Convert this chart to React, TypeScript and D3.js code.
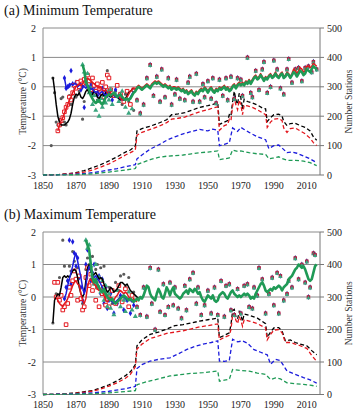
import React from 'react';
import * as d3 from 'd3';

type Pt = [number, number];

const X_TICKS = [1850, 1870, 1890, 1910, 1930, 1950, 1970, 1990, 2010];
const T_TICKS = [-3, -2, -1, 0, 1, 2];
const N_TICKS = [0, 100, 200, 300, 400, 500];

// ---------- (a) Minimum temperature: smoothed lines (start year + yearly values)
const minBlackStart = 1856;
const minBlackLine = [0.33, -0.1, -0.6, -1.0, -1.2, -1.3, -1.3, -1.3, -1.25, -1.2,
  -1.1, -0.9, -0.6, -0.35, -0.25, -0.3, -0.2, -0.35, -0.4, -0.3,
  -0.15, -0.1, -0.2, -0.3, -0.25, -0.15, -0.2, -0.35, -0.4, -0.3,
  -0.25, -0.3, -0.2, -0.25, -0.3, -0.35, -0.3, -0.25, -0.3, -0.35,
  -0.4, -0.45, -0.4, -0.45, -0.4, -0.3, -0.2, -0.15, -0.1, -0.05];
const minRedStart = 1859;
const minRedLine = [-1.5, -1.3, -1.15, -1.05, -0.9, -0.75, -0.6, -0.45, -0.35, -0.2,
  -0.1, 0.0, 0.05, 0.1, 0.05, 0.1, 0.2, 0.25, 0.3, 0.25,
  0.2, 0.15, 0.1, 0.05, 0.0, -0.05, 0.0, -0.1, -0.15, -0.1,
  -0.2, -0.25, -0.2, -0.3, -0.25, -0.3, -0.35, -0.3, -0.4, -0.45,
  -0.4, -0.45, -0.35, -0.25, -0.15, -0.1, -0.05,
  -0.1, 0.0, 0.05, 0.0, -0.05,
  0.0, 0.05, 0.1, 0.05, 0.0, 0.1, 0.15, 0.2, 0.15, 0.2,
  0.15, 0.1, 0.05, 0.1, 0.05, 0.0, 0.05, -0.05, 0.0, 0.0,
  -0.05, 0.0, -0.05, -0.1, -0.05, -0.15, -0.1, -0.2, -0.15, -0.1,
  -0.2, -0.25, -0.15, -0.2, -0.1, -0.05, -0.1, 0.0, -0.05, -0.15,
  -0.05, 0.0, -0.1, -0.15, -0.05, -0.1, 0.0, -0.05, 0.0, 0.05,
  -0.05, 0.0, -0.1, -0.05, 0.05, 0.1, 0.0, 0.1, 0.15, 0.1,
  0.15, 0.1, 0.2, 0.15, 0.25, 0.15, 0.25, 0.35, 0.4, 0.3,
  0.35, 0.45, 0.35, 0.25, 0.35, 0.3, 0.4, 0.45, 0.35, 0.4,
  0.5, 0.4, 0.35, 0.45, 0.5, 0.35, 0.4, 0.5, 0.45, 0.35,
  0.45, 0.6, 0.55, 0.45, 0.55, 0.65, 0.6, 0.5, 0.55, 0.7,
  0.7, 0.65, 0.7, 0.8, 0.75, 0.7];
const minBlueStart = 1863;
const minBlueLine = [0.3, 0.0, -0.05, 0.05, 0.1, 0.05, 0.1, 0.1, 0.0, 0.05,
  0.1, 0.05, 0.0, -0.05, 0.05, 0.0, -0.1, -0.05, -0.15, -0.2,
  -0.15, -0.25, -0.2, -0.15, -0.25, -0.3, -0.2, -0.25, -0.3, -0.25,
  -0.3, -0.35, -0.3, -0.35, -0.4, -0.45, -0.4, -0.45, -0.4, -0.45,
  -0.35, -0.25, -0.15];
const minGreenStart = 1874;
const minGreenLine = [0.75, 0.55, 0.15, 0.05, -0.1, -0.3, -0.4, -0.5, -0.55, -0.5,
  -0.45, -0.55, -0.6, -0.5, -0.35, -0.3, -0.25, -0.3, -0.25, -0.2,
  -0.3, -0.35, -0.3, -0.25, -0.35, -0.4, -0.45, -0.4, -0.45, -0.4,
  -0.3, -0.2, -0.15, -0.05, 0.0, -0.05, -0.1,
  -0.05, 0.0, 0.05, 0.0, -0.05, 0.05, 0.1, 0.15, 0.1, 0.15,
  0.1, 0.05, 0.0, 0.05, 0.0, -0.05, 0.0, -0.1, -0.05, -0.05,
  -0.1, -0.05, -0.1, -0.15, -0.1, -0.2, -0.15, -0.25, -0.2, -0.15,
  -0.25, -0.3, -0.2, -0.25, -0.15, -0.1, -0.15, -0.05, -0.1, -0.2,
  -0.1, -0.05, -0.15, -0.2, -0.1, -0.15, -0.05, -0.1, -0.05, 0.0,
  -0.1, -0.05, -0.15, -0.1, 0.0, 0.05, -0.05, 0.05, 0.1, 0.05,
  0.1, 0.05, 0.15, 0.1, 0.2, 0.1, 0.2, 0.3, 0.35, 0.25,
  0.3, 0.4, 0.3, 0.2, 0.3, 0.25, 0.35, 0.4, 0.3, 0.35,
  0.45, 0.35, 0.3, 0.4, 0.45, 0.3, 0.35, 0.45, 0.4, 0.3,
  0.4, 0.5, 0.45, 0.35, 0.45, 0.55, 0.5, 0.4, 0.45, 0.6,
  0.55, 0.5, 0.6, 0.7, 0.65, 0.6];

// (a) annual points
const minBlackPts: Pt[] = [[1855, -2.0], [1856, 0.3], [1857, -0.2], [1858, -1.2], [1859, -1.3], [1860, -1.1], [1861, -0.4], [1862, -0.35], [1863, -1.2], [1864, -1.3], [1866, -0.3], [1867, -0.6], [1868, -0.25], [1870, -0.35], [1872, -0.15], [1874, -1.1], [1875, -0.5], [1877, -0.1], [1879, 0.15], [1881, -0.3], [1883, -0.45], [1885, -0.2], [1887, -0.35], [1889, 0.55], [1890, -0.1], [1892, -0.3], [1894, -0.15], [1896, -0.35], [1898, -0.6], [1900, -0.25], [1902, -0.5], [1905, -0.8]];
const minRedPts: Pt[] = [[1859, -1.5], [1860, -1.3], [1861, -1.15], [1862, -1.05], [1863, -0.85], [1864, -0.7], [1865, -0.6], [1866, -0.35], [1867, -0.45], [1868, -0.2], [1869, 0.05], [1870, -0.05], [1871, 0.15], [1872, 0.0], [1873, 0.2], [1874, 0.1], [1875, 0.25], [1876, 0.15], [1877, 0.4], [1878, 0.2], [1879, -0.1], [1880, 0.3], [1881, 0.05], [1882, -0.15], [1883, 0.1], [1884, -0.05], [1885, -0.2], [1886, 0.15], [1887, -0.35], [1888, 0.0], [1889, 0.4], [1890, 0.3], [1891, -0.1], [1893, -0.3], [1895, 0.05], [1897, -0.25], [1899, -0.5], [1901, -0.15], [1903, -0.6], [1905, -0.1]];
const minBluePts: Pt[] = [[1863, 0.3], [1864, -0.05], [1865, 0.0], [1866, 0.05], [1867, 0.55], [1868, 0.1], [1869, 0.0], [1870, 0.15], [1871, 0.05], [1872, 0.1], [1873, -0.1], [1874, 0.0], [1875, -0.7], [1876, 0.1], [1877, 0.2], [1878, -0.1], [1879, 0.05], [1880, -0.2], [1881, 0.0], [1882, -0.15], [1883, -0.3], [1884, -0.1], [1885, -0.25], [1886, -0.05], [1887, -0.4], [1888, -0.15], [1889, -0.3], [1890, -0.2], [1892, -0.45], [1894, -0.1], [1896, -0.3]];
const minGreenPts: Pt[] = [[1874, 0.75], [1875, 0.5], [1876, 0.2], [1877, 0.45], [1878, -0.2], [1879, -0.05], [1880, -0.6], [1881, -0.3], [1882, -0.8], [1883, -0.5], [1884, -1.0], [1885, -0.4], [1886, -0.7], [1887, -0.3], [1888, -0.55], [1889, -0.2], [1890, -0.45], [1891, -0.1], [1892, -0.6], [1894, -0.25], [1896, -0.5], [1898, -0.15], [1900, -0.7], [1902, -0.9], [1904, -0.75]];
const minLatePts: Pt[] = [[1907, -0.45], [1909, -0.9], [1911, -0.6], [1913, 0.3], [1915, 0.75], [1917, -0.3], [1919, 0.35], [1921, -0.5], [1922, 0.6], [1924, -0.35], [1926, 0.3], [1928, -0.6], [1930, -0.25], [1931, 0.25], [1933, -0.4], [1936, -0.45], [1938, 0.15], [1939, 0.35], [1941, -0.5], [1943, 0.45], [1945, -0.5], [1947, 0.1], [1948, -0.35], [1950, 0.2], [1952, -0.4], [1953, 0.3], [1955, -0.55], [1957, 0.25], [1959, -0.3], [1961, 0.3], [1962, -0.45], [1964, 0.35], [1966, -0.4], [1968, 0.3], [1970, 0.25], [1971, -0.3], [1974, 1.0], [1976, -0.2], [1977, -0.35], [1979, 0.55], [1981, -0.1], [1983, 0.6], [1984, 0.85], [1986, -0.2], [1988, 0.0], [1990, 0.9], [1992, 0.6], [1994, -0.05], [1996, -0.25], [1998, 0.6], [1999, 0.95], [2001, 0.15], [2003, 0.6], [2005, 0.65], [2007, 0.2], [2009, 0.65], [2011, 0.7], [2013, 0.5], [2014, 0.85], [2016, 0.6]];

// (a) number of stations
const minStnBlack: Pt[] = [[1850, 0], [1855, 1], [1860, 2], [1865, 4], [1870, 8], [1875, 15], [1880, 25], [1885, 35], [1890, 48], [1895, 62], [1900, 78], [1903, 85], [1906, 98], [1907, 150], [1910, 158], [1915, 166], [1920, 176], [1925, 188], [1928, 205], [1932, 208], [1936, 212], [1940, 220], [1945, 230], [1950, 236], [1953, 240], [1956, 245], [1957, 172], [1960, 180], [1962, 185], [1963, 205], [1964, 200], [1965, 250], [1966, 285], [1967, 255], [1968, 240], [1969, 278], [1970, 262], [1971, 225], [1972, 258], [1974, 250], [1977, 245], [1980, 238], [1983, 228], [1985, 225], [1986, 182], [1988, 195], [1990, 205], [1993, 207], [1995, 200], [1996, 182], [1998, 168], [2000, 175], [2003, 176], [2006, 168], [2009, 162], [2012, 150], [2014, 130], [2016, 118]];
const minStnRed: Pt[] = [[1850, 0], [1860, 2], [1870, 6], [1875, 10], [1880, 17], [1885, 27], [1890, 38], [1895, 52], [1900, 68], [1903, 76], [1906, 85], [1907, 135], [1910, 145], [1915, 155], [1920, 165], [1925, 178], [1928, 190], [1932, 193], [1936, 197], [1940, 205], [1945, 215], [1950, 222], [1953, 228], [1956, 232], [1957, 152], [1960, 168], [1962, 172], [1963, 190], [1964, 185], [1965, 235], [1966, 262], [1967, 238], [1968, 222], [1969, 255], [1970, 240], [1971, 205], [1972, 238], [1974, 235], [1977, 230], [1980, 222], [1983, 212], [1985, 205], [1986, 162], [1988, 180], [1990, 190], [1993, 192], [1995, 185], [1996, 160], [1998, 145], [2000, 158], [2003, 160], [2006, 150], [2009, 140], [2012, 125], [2014, 110], [2016, 100]];
const minStnBlue: Pt[] = [[1850, 0], [1860, 1], [1870, 3], [1875, 5], [1880, 8], [1885, 12], [1890, 17], [1895, 22], [1900, 28], [1906, 35], [1907, 55], [1910, 68], [1915, 88], [1920, 102], [1925, 118], [1930, 130], [1935, 140], [1940, 148], [1945, 155], [1950, 150], [1953, 156], [1956, 152], [1957, 100], [1960, 104], [1963, 110], [1965, 160], [1968, 148], [1970, 162], [1972, 155], [1975, 145], [1980, 130], [1985, 120], [1987, 90], [1990, 100], [1993, 102], [1995, 92], [1998, 76], [2001, 78], [2004, 74], [2008, 65], [2012, 55], [2016, 42]];
const minStnGreen: Pt[] = [[1850, 0], [1870, 1], [1880, 4], [1890, 10], [1900, 17], [1906, 22], [1907, 35], [1910, 42], [1915, 52], [1920, 60], [1925, 64], [1930, 66], [1935, 68], [1940, 72], [1945, 76], [1950, 78], [1956, 82], [1957, 52], [1960, 55], [1963, 58], [1965, 85], [1968, 80], [1970, 82], [1975, 76], [1980, 72], [1985, 70], [1987, 55], [1990, 58], [1993, 62], [1995, 56], [1998, 50], [2003, 50], [2008, 47], [2012, 42], [2016, 32]];

// ---------- (b) Maximum temperature
const maxBlackStart = 1856;
const maxBlackLine = [-0.8, -0.1, 0.0, 0.1, 0.05, 0.3, 0.6, 0.65, 0.6, 0.65,
  0.6, 0.7, 0.8, 0.85, 0.8, 0.6, 0.3, 0.1, 0.0, 0.1,
  0.5, 0.9, 1.0, 0.8, 0.65, 0.7, 0.75, 0.65, 0.55, 0.6,
  0.55, 0.4, 0.25, 0.15, 0.2, 0.3, 0.25, 0.15, 0.2, 0.25,
  0.35, 0.45, 0.45, 0.4, 0.35, 0.4, 0.3, 0.2, 0.15, 0.1,
  0.05, 0.0, -0.05];
const maxRedStart = 1858;
const maxRedLine = [0.0, -0.1, -0.2, -0.25, -0.3, -0.2, -0.15, -0.05, 0.1, 0.2,
  0.35, 0.45, 0.5, 0.4, 0.35, 0.1, -0.1, -0.2, -0.05, 0.3,
  0.5, 0.55, 0.45, 0.4, 0.35, 0.25, 0.2, 0.25, 0.15, 0.05,
  -0.1, -0.15, -0.1, 0.0, -0.05, -0.1, 0.0, 0.05, 0.15, 0.2,
  0.15, 0.1, 0.15, 0.1, 0.0, -0.05, -0.1, -0.05, -0.1, -0.15];
const maxBlueStart = 1863;
const maxBlueLine = [-0.05, 0.1, 0.35, 0.55, 0.75, 0.95, 1.2, 1.35, 1.1, 0.85,
  0.6, 0.3, 0.1, 0.3, 0.75, 0.95, 0.85, 0.65, 0.6, 0.65,
  0.55, 0.5, 0.4, 0.3, 0.2, 0.1, 0.0, -0.05, -0.1, -0.15,
  -0.2, -0.15, -0.1, -0.05, 0.0, 0.05, 0.0, -0.05, -0.1, -0.05,
  -0.1, -0.15, -0.1, -0.1];
const maxGreenStart = 1876;
const maxGreenLine = [1.75, 1.6, 1.45, 1.0, 0.6, 0.45, 0.55, 0.4, 0.3, 0.2,
  0.15, 0.25, 0.1, 0.0, -0.05, -0.1, -0.05, -0.15, -0.2, -0.15,
  -0.1, -0.05, 0.0, 0.05, 0.0, -0.05, -0.1, -0.05, -0.1, -0.15,
  -0.1, -0.05, -0.1, 0.0, -0.05, 0.05, 0.2, 0.35, 0.3, 0.1,
  0.0, -0.05, -0.1, 0.1, 0.25, 0.15, 0.0, -0.05, 0.1, 0.3,
  0.2, 0.05, 0.2, 0.3, 0.1, 0.05, 0.0, -0.05, 0.0, 0.1,
  0.15, 0.2, 0.1, 0.25, 0.2, 0.15, 0.25, 0.2, 0.1, 0.15,
  0.0, -0.1, -0.15, -0.05, 0.05, 0.0, -0.05, 0.05, -0.1, -0.15,
  -0.1, 0.05, 0.1, 0.15, 0.1, 0.0, -0.05, 0.05, 0.15, 0.2,
  0.1, 0.05, 0.0, 0.05, 0.0, 0.05, 0.1, 0.05, 0.1, 0.05,
  -0.05, 0.0, -0.05, 0.1, 0.2, 0.3, 0.4, 0.45, 0.35, 0.2,
  0.15, 0.2, 0.25, 0.2, 0.3, 0.25, 0.3, 0.35, 0.3, 0.2,
  0.3, 0.35, 0.4, 0.55, 0.6, 0.65, 0.75, 0.85, 0.9, 1.0,
  0.95, 0.9, 0.95, 0.85, 0.7, 0.55, 0.5, 0.55, 0.75, 0.95, 1.0];

const maxBlackPts: Pt[] = [[1856, -0.8], [1858, 0.1], [1860, 0.6], [1862, 1.75], [1863, 0.95], [1865, 0.5], [1866, 0.95], [1867, 0.8], [1868, 1.4], [1869, 1.1], [1870, 0.55], [1871, 0.9], [1872, -0.1], [1874, -0.2], [1876, 0.85], [1877, 1.2], [1878, 1.0], [1879, 0.55], [1880, 1.25], [1881, 0.4], [1882, 0.85], [1883, 1.0], [1884, 0.6], [1885, 0.9], [1886, 0.3], [1887, 0.95], [1888, 0.1], [1890, 0.3], [1892, -0.2], [1894, 0.45], [1896, 0.2], [1897, 0.65], [1899, 0.7], [1900, 0.3], [1902, 0.6], [1904, -0.1], [1905, 0.15]];
const maxRedPts: Pt[] = [[1857, 0.45], [1858, 0.0], [1859, 0.45], [1860, -0.1], [1861, 0.05], [1862, -0.4], [1863, -0.3], [1864, -0.85], [1865, -0.2], [1866, 0.3], [1867, 0.05], [1868, 0.5], [1869, 0.8], [1870, 0.55], [1871, -0.1], [1872, 0.65], [1873, -0.05], [1874, -0.4], [1875, -0.3], [1876, 0.6], [1877, 0.9], [1878, 0.35], [1879, 0.7], [1880, 0.2], [1881, 0.5], [1882, -0.1], [1883, 0.3], [1884, -0.3], [1885, 0.5], [1886, 0.1], [1887, 0.3], [1888, -0.25], [1889, 0.0], [1890, -0.3], [1892, 0.2], [1894, -0.2], [1896, 0.35], [1898, -0.15], [1900, 0.25], [1902, -0.3], [1904, 0.05]];
const maxBluePts: Pt[] = [[1863, -0.05], [1864, 0.3], [1865, 0.5], [1866, 1.75], [1867, 0.4], [1868, 1.7], [1869, 1.35], [1870, 0.95], [1871, 1.2], [1872, 0.6], [1873, 0.3], [1874, -0.1], [1875, 0.2], [1876, 1.0], [1877, 1.45], [1878, 0.9], [1879, 0.5], [1880, 0.75], [1881, 1.0], [1882, 0.5], [1883, 0.35], [1884, 0.65], [1885, 0.1], [1886, 0.55], [1887, -0.2], [1888, 0.3], [1889, -0.35], [1890, -0.1], [1891, 0.1], [1893, -0.5], [1895, -0.2], [1897, 0.05], [1899, -0.4], [1901, -0.1], [1903, -0.5], [1905, -0.25]];
const maxGreenPts: Pt[] = [[1876, 1.75], [1877, 1.5], [1878, 1.6], [1879, 0.95], [1880, 0.7], [1881, 0.4], [1882, 1.0], [1883, 0.3], [1884, 0.6], [1885, 0.15], [1886, 0.5], [1887, -0.1], [1888, 0.35], [1889, -0.3], [1890, 0.1], [1891, -0.35], [1893, -0.55], [1895, 0.2], [1897, -0.3], [1899, -0.1], [1900, -0.45], [1902, 0.15], [1904, -0.4], [1906, -0.6]];
const maxLatePts: Pt[] = [[1907, -0.3], [1909, -0.55], [1911, 0.3], [1913, -0.6], [1915, 0.9], [1916, -0.2], [1918, -1.0], [1920, 0.85], [1921, -0.45], [1923, 0.4], [1924, -0.55], [1926, -0.3], [1927, 0.45], [1929, -0.25], [1930, 0.3], [1932, -0.35], [1934, -0.65], [1936, 0.35], [1937, -0.4], [1939, 0.55], [1941, 0.75], [1943, -0.2], [1944, 0.3], [1946, -0.55], [1948, -0.25], [1950, 0.2], [1952, -0.5], [1954, 0.3], [1956, -0.55], [1958, 0.5], [1960, -0.6], [1961, 0.35], [1963, 0.4], [1964, -0.4], [1966, -0.55], [1968, 0.25], [1970, -0.5], [1972, 0.35], [1974, 0.4], [1975, -0.3], [1977, -0.35], [1978, 0.3], [1980, 0.05], [1981, 0.9], [1983, 0.55], [1985, -0.5], [1987, 0.1], [1989, 0.6], [1990, -0.25], [1992, 0.75], [1993, -0.5], [1994, 0.65], [1996, -0.1], [1998, 0.1], [1999, 0.5], [2001, 0.3], [2003, 1.2], [2005, 0.55], [2007, 1.0], [2009, 0.45], [2010, 1.1], [2011, 0.0], [2012, 0.3], [2014, 1.35], [2015, 1.3]];

const maxStnBlack: Pt[] = [[1850, 0], [1860, 1], [1870, 5], [1880, 12], [1885, 20], [1890, 30], [1895, 42], [1900, 58], [1903, 70], [1906, 92], [1907, 150], [1910, 168], [1915, 185], [1920, 192], [1925, 201], [1930, 212], [1935, 215], [1940, 220], [1945, 226], [1950, 230], [1956, 235], [1957, 175], [1960, 182], [1963, 190], [1964, 215], [1965, 258], [1966, 262], [1967, 240], [1968, 232], [1969, 255], [1970, 245], [1971, 225], [1972, 248], [1975, 244], [1980, 235], [1985, 218], [1986, 176], [1988, 192], [1990, 205], [1993, 206], [1995, 195], [1997, 165], [2000, 168], [2003, 160], [2006, 155], [2010, 150], [2013, 135], [2016, 122]];
const maxStnRed: Pt[] = [[1850, 0], [1860, 1], [1870, 4], [1880, 10], [1885, 17], [1890, 26], [1895, 36], [1900, 50], [1903, 62], [1906, 85], [1907, 140], [1910, 155], [1915, 172], [1920, 180], [1925, 188], [1930, 192], [1935, 196], [1940, 202], [1945, 208], [1950, 212], [1956, 217], [1957, 168], [1960, 176], [1963, 182], [1964, 200], [1965, 245], [1966, 250], [1967, 228], [1968, 218], [1969, 240], [1970, 228], [1971, 210], [1972, 230], [1975, 226], [1980, 218], [1985, 205], [1986, 168], [1988, 185], [1990, 198], [1993, 200], [1995, 190], [1997, 160], [2000, 160], [2003, 155], [2006, 150], [2010, 142], [2013, 120], [2016, 102]];
const maxStnBlue: Pt[] = [[1850, 0], [1870, 2], [1880, 5], [1890, 10], [1900, 18], [1906, 25], [1907, 80], [1910, 92], [1915, 103], [1920, 108], [1927, 113], [1932, 125], [1937, 138], [1942, 148], [1947, 155], [1952, 160], [1956, 165], [1957, 103], [1960, 102], [1963, 105], [1965, 170], [1968, 162], [1971, 165], [1974, 158], [1978, 138], [1982, 130], [1986, 122], [1988, 93], [1991, 108], [1994, 104], [1998, 72], [2003, 62], [2008, 52], [2012, 45], [2016, 35]];
const maxStnGreen: Pt[] = [[1850, 0], [1880, 2], [1890, 5], [1900, 9], [1906, 12], [1907, 30], [1910, 35], [1915, 42], [1920, 48], [1927, 57], [1935, 62], [1940, 65], [1947, 67], [1952, 70], [1956, 72], [1957, 41], [1960, 44], [1963, 47], [1965, 77], [1970, 74], [1975, 72], [1980, 66], [1985, 62], [1988, 46], [1991, 51], [1994, 48], [1998, 36], [2003, 33], [2008, 31], [2012, 29], [2016, 25]];

const FONT = '"Liberation Serif", "DejaVu Serif", "Times New Roman", serif';
const C_BLACK = '#000000';
const C_RED = '#e3161d';
const C_BLUE = '#1c1cdc';
const C_GREEN = '#1f9a56';
const C_TRI = '#3aa47e';

function seq(start: number, vals: number[]): Pt[] {
  return vals.map((v, i) => [start + i, v] as Pt);
}

const symCircle = d3.symbol(d3.symbolCircle, 8)() as string;
const symSquare = d3.symbol(d3.symbolSquare, 13)() as string;
const symSquareLate = d3.symbol(d3.symbolSquare, 12)() as string;
const symDiamond = d3.symbol(d3.symbolDiamond, 10)() as string;
const symTri = d3.symbol(d3.symbolTriangle, 11)() as string;
const symTriLate = d3.symbol(d3.symbolTriangle, 8)() as string;

interface PanelCfg {
  title: string; titleY: number; top: number; bottom: number;
  lines: { color: string; width: number; data: Pt[] }[];
  stations: { color: string; data: Pt[] }[];
  blackPts: Pt[]; redPts: Pt[]; bluePts: Pt[]; greenPts: Pt[]; latePts: Pt[];
}

function Panel({ cfg }: { cfg: PanelCfg }) {
  const x = d3.scaleLinear().domain([1850, 2018]).range([43, 320]);
  const y = d3.scaleLinear().domain([-3, 2]).range([cfg.bottom, cfg.top]);
  const yN = d3.scaleLinear().domain([0, 500]).range([cfg.bottom, cfg.top]);
  const lineT = d3.line<Pt>().x(d => x(d[0])).y(d => y(d[1]));
  const lineN = d3.line<Pt>().x(d => x(d[0])).y(d => yN(d[1]));
  const midY = (cfg.top + cfg.bottom) / 2;
  const tr = (d: Pt) => `translate(${x(d[0])},${y(d[1])})`;
  return (
    <g>
      <text x={4} y={cfg.titleY} fontFamily={FONT} fontSize={14} fill="#111">{cfg.title}</text>
      {T_TICKS.map(t => (
        <line key={'g' + t} x1={x(1850)} x2={x(2018)} y1={y(t)} y2={y(t)} stroke={t === -3 ? '#777' : '#8a8a8a'} strokeWidth={1} />
      ))}
      <line x1={x(1850)} x2={x(1850)} y1={cfg.top} y2={cfg.bottom} stroke="#8a8a8a" />
      <line x1={x(2018)} x2={x(2018)} y1={cfg.top} y2={cfg.bottom} stroke="#777" />
      {N_TICKS.map(t => (
        <g key={'n' + t}>
          <line x1={320} x2={324} y1={yN(t)} y2={yN(t)} stroke="#777" />
          <text x={327} y={yN(t)} dy="0.35em" fontFamily={FONT} fontSize={10} fill="#222">{t}</text>
        </g>
      ))}
      {T_TICKS.map(t => (
        <text key={'t' + t} x={36} y={y(t)} dy="0.35em" textAnchor="end" fontFamily={FONT} fontSize={10} fill="#222">{t}</text>
      ))}
      {X_TICKS.map(t => (
        <text key={'x' + t} x={x(t)} y={cfg.bottom + 13.5} textAnchor="middle" fontFamily={FONT} fontSize={10} fill="#222">{t}</text>
      ))}
      <text transform={`translate(26,${midY}) rotate(-90)`} textAnchor="middle" fontFamily={FONT} fontSize={9.5} fill="#333">Temperature (°C)</text>
      <text transform={`translate(352,${midY}) rotate(-90)`} textAnchor="middle" fontFamily={FONT} fontSize={9.5} fill="#333">Number Stations</text>

      {cfg.stations.map((s, i) => (
        <path key={'s' + i} d={lineN(s.data) as string} fill="none" stroke={s.color} strokeWidth={1.3} strokeDasharray="4 2.5" />
      ))}

      {cfg.blackPts.map((d, i) => <path key={'bp' + i} d={symCircle} transform={tr(d)} fill="#5a5a5a" />)}
      {cfg.bluePts.map((d, i) => <path key={'up' + i} d={symDiamond} transform={tr(d)} fill={C_BLUE} />)}
      {cfg.redPts.map((d, i) => <path key={'rp' + i} d={symSquare} transform={tr(d)} fill="#fff" stroke={C_RED} strokeWidth={1} />)}
      {cfg.greenPts.map((d, i) => <path key={'gp' + i} d={symTri} transform={tr(d)} fill={C_TRI} />)}
      {cfg.latePts.map((d, i) => (
        <g key={'lp' + i} transform={tr(d)}>
          <path d={symDiamond} fill="#3a2a8a" />
          <path d={symSquareLate} fill="#b8153d" />
          <path d={symTriLate} fill={C_TRI} transform="translate(0,1)" />
        </g>
      ))}

      {cfg.lines.map((l, i) => (
        <path key={'l' + i} d={lineT(l.data) as string} fill="none" stroke={l.color} strokeWidth={l.width} strokeLinejoin="round" />
      ))}
    </g>
  );
}

const panelA: PanelCfg = {
  title: '(a) Minimum Temperature', titleY: 15, top: 28, bottom: 175,
  lines: [
    { color: C_BLACK, width: 1.5, data: seq(minBlackStart, minBlackLine) },
    { color: C_BLUE, width: 1.5, data: seq(minBlueStart, minBlueLine) },
    { color: C_RED, width: 1.5, data: seq(minRedStart, minRedLine) },
    { color: C_GREEN, width: 2.6, data: seq(minGreenStart, minGreenLine) },
  ],
  stations: [
    { color: C_BLACK, data: minStnBlack },
    { color: C_RED, data: minStnRed },
    { color: C_BLUE, data: minStnBlue },
    { color: C_GREEN, data: minStnGreen },
  ],
  blackPts: minBlackPts, redPts: minRedPts, bluePts: minBluePts, greenPts: minGreenPts, latePts: minLatePts,
};

const panelB: PanelCfg = {
  title: '(b) Maximum Temperature', titleY: 219, top: 232, bottom: 394.5,
  lines: [
    { color: C_BLACK, width: 1.5, data: seq(maxBlackStart, maxBlackLine) },
    { color: C_BLUE, width: 1.5, data: seq(maxBlueStart, maxBlueLine) },
    { color: C_RED, width: 1.5, data: seq(maxRedStart, maxRedLine) },
    { color: C_GREEN, width: 2.6, data: seq(maxGreenStart, maxGreenLine) },
  ],
  stations: [
    { color: C_BLACK, data: maxStnBlack },
    { color: C_RED, data: maxStnRed },
    { color: C_BLUE, data: maxStnBlue },
    { color: C_GREEN, data: maxStnGreen },
  ],
  blackPts: maxBlackPts, redPts: maxRedPts, bluePts: maxBluePts, greenPts: maxGreenPts, latePts: maxLatePts,
};

export default function App() {
  return (
    <svg width={357} height={412} style={{ position: 'absolute', left: 0, top: 0, background: '#fff' }}>
      <rect width={357} height={412} fill="#fff" />
      <Panel cfg={panelA} />
      <Panel cfg={panelB} />
    </svg>
  );
}
